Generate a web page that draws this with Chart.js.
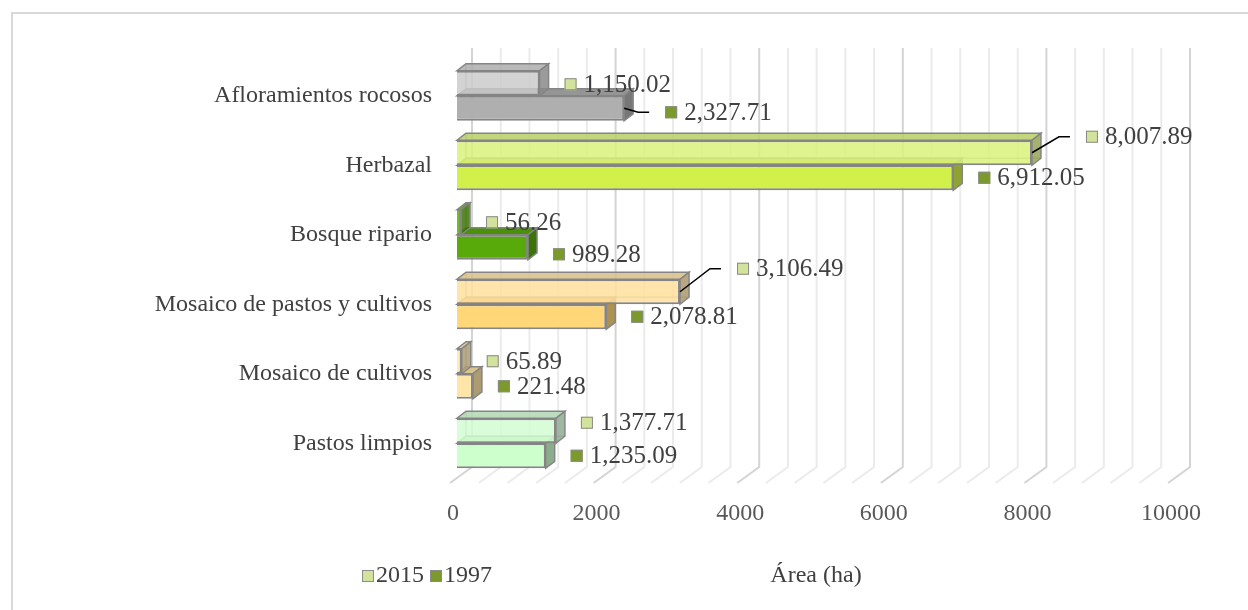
<!DOCTYPE html>
<html lang="es">
<head>
<meta charset="UTF-8">
<title>Área por cobertura 1997 - 2015</title>
<script src="https://cdn.jsdelivr.net/npm/chart.js@4.4.1/dist/chart.umd.min.js"></script>
<style>
  html, body { margin: 0; padding: 0; background: #fff; }
  #wrap { width: 1248px; height: 610px; }
</style>
</head>
<body>
<div id="wrap"><canvas id="chart" width="1248" height="610"></canvas></div>
<script>
// data
const categories = ['Afloramientos rocosos', 'Herbazal', 'Bosque ripario',
  'Mosaico de pastos y cultivos', 'Mosaico de cultivos', 'Pastos limpios'];
const years = ['2015', '1997'];
const area2015 = [1150.02, 8007.89, 56.26, 3106.49, 65.89, 1377.71];
const area1997 = [2327.71, 6912.05, 989.28, 2078.81, 221.48, 1235.09];
const xTicks = [0, 2000, 4000, 6000, 8000, 10000];

// colours, one per category
const colors2015 = ['#cbcbcb', '#d9f27a', '#5aab0b', '#ffdf9e', '#ffe6ad', '#d2fdd2'];
const colors1997 = ['#afafaf', '#d2f04a', '#58a90a', '#ffd778', '#ffe6a8', '#ccffcc'];
const legendColors = ['#d3e29d', '#7b9a2b'];

const FONT = '"Liberation Serif", "Times New Roman", serif';
const TEXT = '#404040';
const depth = { dx: 9, dy: 7 };      // bar depth
const wallOff = { dx: 15, dy: 11 };  // back wall behind the bar fronts
const floorOff = { dx: -7, dy: 5 };  // front edge of the floor

// label nudges (dataset-index) and which ones get a leader line
const labelShift = { '1-0': [16, 4], '0-1': [29, -16], '0-3': [32, -23], '1-2': [0, 7], '0-5': [0, -8], '0-0': [0, 1] };
const leaders = ['1-0', '0-1', '0-3'];

function hexRgb(h) {
  const n = parseInt(h.slice(1), 16);
  return [(n >> 16) & 255, (n >> 8) & 255, n & 255];
}
function tone(h, f, a) {
  const c = hexRgb(h).map(v => Math.round(v * f));
  return `rgba(${c[0]},${c[1]},${c[2]},${a})`;
}
const fmt = v => v.toLocaleString('en-US', { minimumFractionDigits: 2, maximumFractionDigits: 2 });

const bar3d = {
  id: 'bar3d',
  beforeDraw(chart) {
    const c = chart.ctx;
    c.save();
    c.fillStyle = '#fff';
    c.fillRect(0, 0, chart.width, chart.height);
    c.strokeStyle = '#d9d9d9';
    c.lineWidth = 2;
    c.strokeRect(12, 13, chart.width + 10, chart.height + 10);
    c.restore();
  },
  beforeDatasetsDraw(chart) {
    const c = chart.ctx, a = chart.chartArea, xs = chart.scales.x;
    c.save();
    // back wall + floor grid
    for (let v = 0; v <= 10000; v += 400) {
      const px = xs.getPixelForValue(v);
      c.strokeStyle = v % 2000 === 0 ? '#d4d4d4' : '#ebebeb';
      c.lineWidth = 2;
      c.beginPath();
      c.moveTo(px + wallOff.dx, a.top - 13);
      c.lineTo(px + wallOff.dx, a.bottom - wallOff.dy);
      c.lineTo(px + floorOff.dx, a.bottom + floorOff.dy);
      c.stroke();
    }
    // depth faces, drawn before the fronts
    [1, 0].forEach(di => {
      const meta = chart.getDatasetMeta(di);
      const cols = di === 0 ? colors2015 : colors1997;
      const alpha = di === 0 ? 0.85 : 1;
      meta.data.forEach((el, i) => {
        const p = el.getProps(['x', 'y', 'base', 'height'], true);
        const top = p.y - p.height / 2, bot = p.y + p.height / 2;
        c.lineWidth = 1.5;
        c.strokeStyle = '#858585';
        if (di === 0) {
          // hidden back edges seen through the glassy bar
          c.save();
          c.strokeStyle = 'rgba(128,128,128,0.6)';
          c.beginPath();
          c.moveTo(p.base + depth.dx, top - depth.dy);
          c.lineTo(p.base + depth.dx, bot - depth.dy);
          c.lineTo(p.x + depth.dx, bot - depth.dy);
          c.stroke();
          c.restore();
        }
        // top
        c.fillStyle = tone(cols[i], 0.85, alpha);
        c.beginPath();
        c.moveTo(p.base, top);
        c.lineTo(p.x, top);
        c.lineTo(p.x + depth.dx, top - depth.dy);
        c.lineTo(p.base + depth.dx, top - depth.dy);
        c.closePath();
        c.fill(); c.stroke();
        // right side
        c.fillStyle = tone(cols[i], 0.68, alpha);
        c.beginPath();
        c.moveTo(p.x, top);
        c.lineTo(p.x + depth.dx, top - depth.dy);
        c.lineTo(p.x + depth.dx, bot - depth.dy);
        c.lineTo(p.x, bot);
        c.closePath();
        c.fill(); c.stroke();
      });
    });
    c.restore();
  },
  afterDatasetsDraw(chart) {
    const c = chart.ctx;
    c.save();
    c.font = '25px ' + FONT;
    c.textBaseline = 'middle';
    [0, 1].forEach(di => {
      const meta = chart.getDatasetMeta(di);
      const vals = chart.data.datasets[di].data;
      meta.data.forEach((el, i) => {
        const key = di + '-' + i;
        const p = el.getProps(['x', 'y'], true);
        const sh = labelShift[key] || [0, 0];
        const sx = p.x + depth.dx + 16 + sh[0];
        const cy = p.y + sh[1];
        if (leaders.includes(key)) {
          c.strokeStyle = '#000';
          c.lineWidth = 1.5;
          c.beginPath();
          c.moveTo(p.x, p.y);
          c.lineTo(sx - 27, cy);
          c.lineTo(sx - 16, cy);
          c.stroke();
        }
        c.fillStyle = legendColors[di];
        c.fillRect(sx, cy - 6, 12, 12);
        c.strokeStyle = '#8a8a8a';
        c.lineWidth = 1;
        c.strokeRect(sx + 0.5, cy - 5.5, 11, 11);
        c.fillStyle = TEXT;
        c.fillText(fmt(vals[i]), sx + 19, cy + 1);
      });
    });
    // legend
    c.font = '24px ' + FONT;
    let lx = 362;
    const ly = 576;
    years.forEach((y, k) => {
      c.fillStyle = legendColors[k];
      c.fillRect(lx, ly - 6, 12, 12);
      c.strokeStyle = '#8a8a8a';
      c.lineWidth = 1;
      c.strokeRect(lx + 0.5, ly - 5.5, 11, 11);
      c.fillStyle = TEXT;
      c.fillText(y, lx + 14, ly);
      lx += 68;
    });
    c.restore();
  }
};

const ctx = document.getElementById('chart').getContext('2d');
new Chart(ctx, {
  type: 'bar',
  data: {
    labels: categories,
    datasets: [
      {
        label: years[0],
        data: area2015,
        backgroundColor: colors2015.map(h => tone(h, 1, 0.85)),
        borderColor: '#858585',
        borderWidth: 2,
        categoryPercentage: 0.72,
        barPercentage: 1
      },
      {
        label: years[1],
        data: area1997,
        backgroundColor: colors1997,
        borderColor: '#858585',
        borderWidth: 2,
        categoryPercentage: 0.72,
        barPercentage: 1
      }
    ]
  },
  options: {
    indexAxis: 'y',
    responsive: false,
    animation: false,
    devicePixelRatio: 1,
    layout: { padding: { left: 0, right: 73, top: 61, bottom: 20 } },
    plugins: { legend: { display: false }, tooltip: { enabled: false } },
    scales: {
      x: {
        min: 0,
        max: 10000,
        afterBuildTicks: s => { s.ticks = xTicks.map(v => ({ value: v })); },
        afterFit: s => { s.height = 112; },
        grid: { display: false, drawTicks: false },
        border: { display: false },
        ticks: {
          padding: 21, labelOffset: -4, color: '#595959',
          font: { family: FONT, size: 24 },
          callback: v => String(v)
        },
        title: { display: true, text: 'Área (ha)', color: TEXT, padding: { top: 0, bottom: 0 }, font: { family: FONT, size: 24 } }
      },
      y: {
        afterFit: s => { s.width = 457; },
        grid: { display: false, drawTicks: false },
        border: { display: false },
        ticks: { padding: 25, color: TEXT, font: { family: FONT, size: 24 } }
      }
    }
  },
  plugins: [bar3d]
});
</script>
</body>
</html>
